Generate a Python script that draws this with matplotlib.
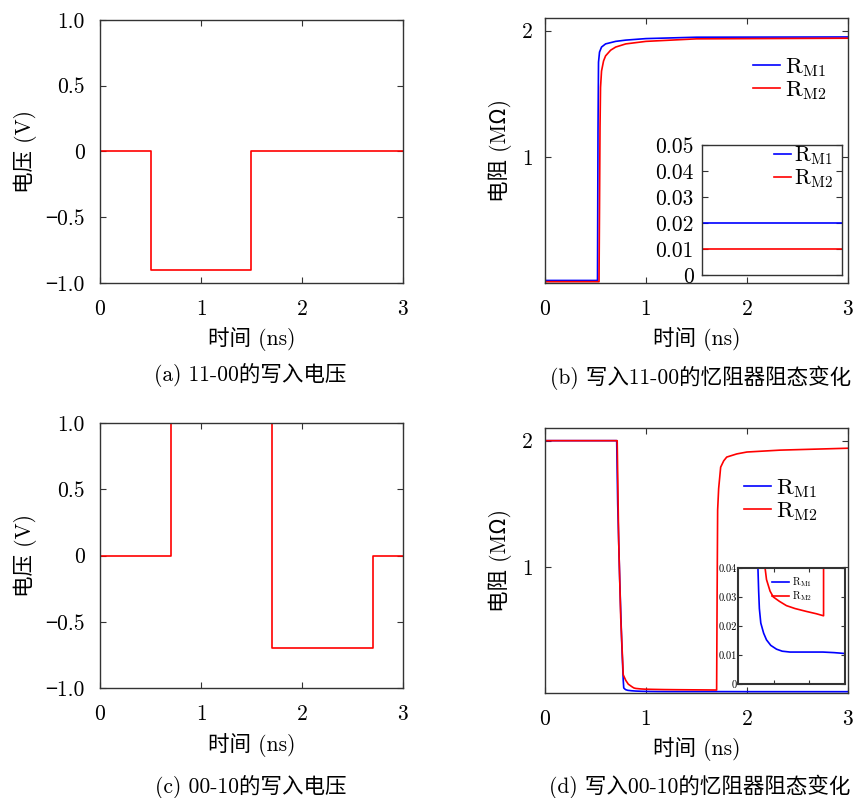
import matplotlib
matplotlib.use("Agg")
from matplotlib import pyplot as plt

plt.rcParams['font.family'] = ['cmr10', 'Noto Sans CJK SC', 'DejaVu Sans']
plt.rcParams['mathtext.fontset'] = 'cm'
plt.rcParams['axes.formatter.use_mathtext'] = True
plt.rcParams['axes.unicode_minus'] = True

# (a) 11-00 写入电压
t_a = [0, 0.5, 0.5, 1.5, 1.5, 3.0]
v_a = [0, 0, -0.9, -0.9, 0, 0]

# (c) 00-10 写入电压
t_c = [0, 0.7, 0.7, 1.7, 1.7, 2.7, 2.7, 3.0]
v_c = [0, 0, 1.0, 1.0, -0.7, -0.7, 0, 0]

# (b) 写入11-00 阻态 (MOhm)
t_b1 = [0, 0.52, 0.525, 0.53, 0.54, 0.56, 0.6, 0.7, 0.8, 1.0, 1.5, 3.0]
r_b1 = [0.02, 0.02, 1.2, 1.75, 1.83, 1.87, 1.895, 1.915, 1.925, 1.937, 1.948, 1.95]
t_b2 = [0, 0.535, 0.54, 0.545, 0.55, 0.56, 0.58, 0.6, 0.65, 0.7, 0.8, 1.0, 1.5, 3.0]
r_b2 = [0.01, 0.01, 0.6, 1.24, 1.55, 1.68, 1.76, 1.80, 1.845, 1.87, 1.895, 1.915, 1.935, 1.94]

# (d) 写入00-10 阻态 (MOhm)
t_d1 = [0, 0.71, 0.72, 0.74, 0.76, 0.775, 0.78, 0.79, 0.8, 0.82, 0.86, 0.9, 0.96,
        1.04, 1.12, 1.23, 1.45, 1.69, 1.85, 2.0, 3.0]
r_d1 = [2.0, 2.0, 1.5, 0.9, 0.4, 0.1, 0.04, 0.032, 0.026, 0.021, 0.0175, 0.0152, 0.0133,
        0.012, 0.0113, 0.011, 0.011, 0.011, 0.0108, 0.0105, 0.0103]
t_d2 = [0, 0.715, 0.73, 0.75, 0.775, 0.8, 0.825, 0.86, 0.88, 0.9, 0.95, 0.995, 1.08, 1.18,
        1.3, 1.46, 1.6, 1.70, 1.705, 1.71, 1.72, 1.74, 1.77, 1.8, 1.9, 2.0, 2.33, 3.0]
r_d2 = [2.0, 2.0, 1.2, 0.6, 0.144, 0.1, 0.07, 0.05, 0.04, 0.036, 0.032, 0.03, 0.0285,
        0.027, 0.026, 0.025, 0.0242, 0.0235, 0.8, 1.45, 1.62, 1.79, 1.84, 1.87, 1.895,
        1.91, 1.925, 1.94]

labels = [r'$\mathrm{R_{M1}}$', r'$\mathrm{R_{M2}}$']
captions = ['(a) 11-00的写入电压', '(b) 写入11-00的忆阻器阻态变化',
            '(c) 00-10的写入电压', '(d) 写入00-10的忆阻器阻态变化']

fs = 15.5


def style(ax, size=fs, pad=11):
    ax.tick_params(direction='in', top=True, right=True, labelsize=size,
                   length=4, color='#333333')
    ax.tick_params(axis='x', pad=12)
    ax.tick_params(axis='y', pad=pad)
    for s in ax.spines.values():
        s.set_color('#333333')
        s.set_linewidth(1.0)


fig = plt.figure(figsize=(8.58, 7.98), dpi=100)

ax_a = fig.add_axes([0.1166, 0.6454, 0.353, 0.3296])
ax_b = fig.add_axes([0.6352, 0.6454, 0.353, 0.332])
ax_c = fig.add_axes([0.1166, 0.1378, 0.353, 0.332])
ax_d = fig.add_axes([0.6352, 0.1316, 0.353, 0.332])

for ax, t, v in [(ax_a, t_a, v_a), (ax_c, t_c, v_c)]:
    ax.plot(t, v, color='red', lw=1.2)
    ax.set_xlim(0, 3)
    ax.set_ylim(-1.0, 1.0)
    ax.set_xticks([0, 1, 2, 3])
    ax.set_yticks([-1.0, -0.5, 0, 0.5, 1.0])
    ax.set_yticklabels(['−1.0', '−0.5', '0', '0.5', '1.0'])
    ax.set_ylabel('电压 (V)', fontsize=fs, labelpad=6)
    ax.set_xlabel('时间 (ns)', fontsize=fs, labelpad=6)
    style(ax)

for ax, tb, rb, tr, rr, lpos in [(ax_b, t_b1, r_b1, t_b2, r_b2, (0.96, 0.89)),
                                  (ax_d, t_d1, r_d1, t_d2, r_d2, (0.93, 0.85))]:
    ax.plot(tb, rb, color='blue', lw=1.2, label=labels[0])
    ax.plot(tr, rr, color='red', lw=1.2, label=labels[1])
    ax.set_xlim(0, 3)
    ax.set_ylim(0, 2.1)
    ax.set_xticks([0, 1, 2, 3])
    ax.set_yticks([1, 2])
    ax.set_ylabel('电阻 (MΩ)', fontsize=fs, labelpad=6)
    ax.set_xlabel('时间 (ns)', fontsize=fs, labelpad=6)
    ax.legend(loc='upper right', bbox_to_anchor=lpos, frameon=False, fontsize=fs + 1,
              handlelength=1.2, handletextpad=0.2, labelspacing=0.0, borderaxespad=0)
    style(ax, pad=9)

# inset in (b)
in_b = fig.add_axes([0.8182, 0.6554, 0.1632, 0.1629])
in_b.plot(t_b1, r_b1, color='blue', lw=1.2, label=labels[0])
in_b.plot(t_b2, r_b2, color='red', lw=1.2, label=labels[1])
in_b.set_xlim(0, 0.5)
in_b.set_ylim(0, 0.05)
in_b.set_xticks([])
in_b.set_yticks([0, 0.01, 0.02, 0.03, 0.04, 0.05])
in_b.set_yticklabels(['0', '0.01', '0.02', '0.03', '0.04', '0.05'])
in_b.legend(loc='upper right', bbox_to_anchor=(1.0, 1.07), frameon=False, fontsize=fs,
            handlelength=0.8, handletextpad=0.15, labelspacing=0.0, borderaxespad=0)
style(in_b, pad=6)

# inset in (d)
in_d = fig.add_axes([0.8601, 0.1429, 0.1247, 0.1454])
in_d.plot(t_d1, r_d1, color='blue', lw=1.2, label=labels[0])
in_d.plot(t_d2, r_d2, color='red', lw=1.2, label=labels[1])
in_d.set_xlim(0.5, 2.0)
in_d.set_ylim(0, 0.04)
in_d.set_xticks([1.0, 1.5])
in_d.set_xticklabels([])
in_d.set_yticks([0, 0.01, 0.02, 0.03, 0.04])
in_d.set_yticklabels(['0', '0.01', '0.02', '0.03', '0.04'])
in_d.legend(loc='upper right', bbox_to_anchor=(0.73, 0.97), frameon=False, fontsize=7.5,
            handlelength=1.6, handletextpad=0.3, labelspacing=0.0, borderaxespad=0)
style(in_d, size=7.5, pad=1)
in_d.tick_params(length=3)
for s in in_d.spines.values():
    s.set_linewidth(1.5)

cap_pos = [(0.292, 0.530), (0.816, 0.526), (0.292, 0.014), (0.816, 0.014)]
for (x, y), c in zip(cap_pos, captions):
    fig.text(x, y, c, ha='center', va='center', fontsize=fs)

fig.savefig('out.png', dpi=100)
